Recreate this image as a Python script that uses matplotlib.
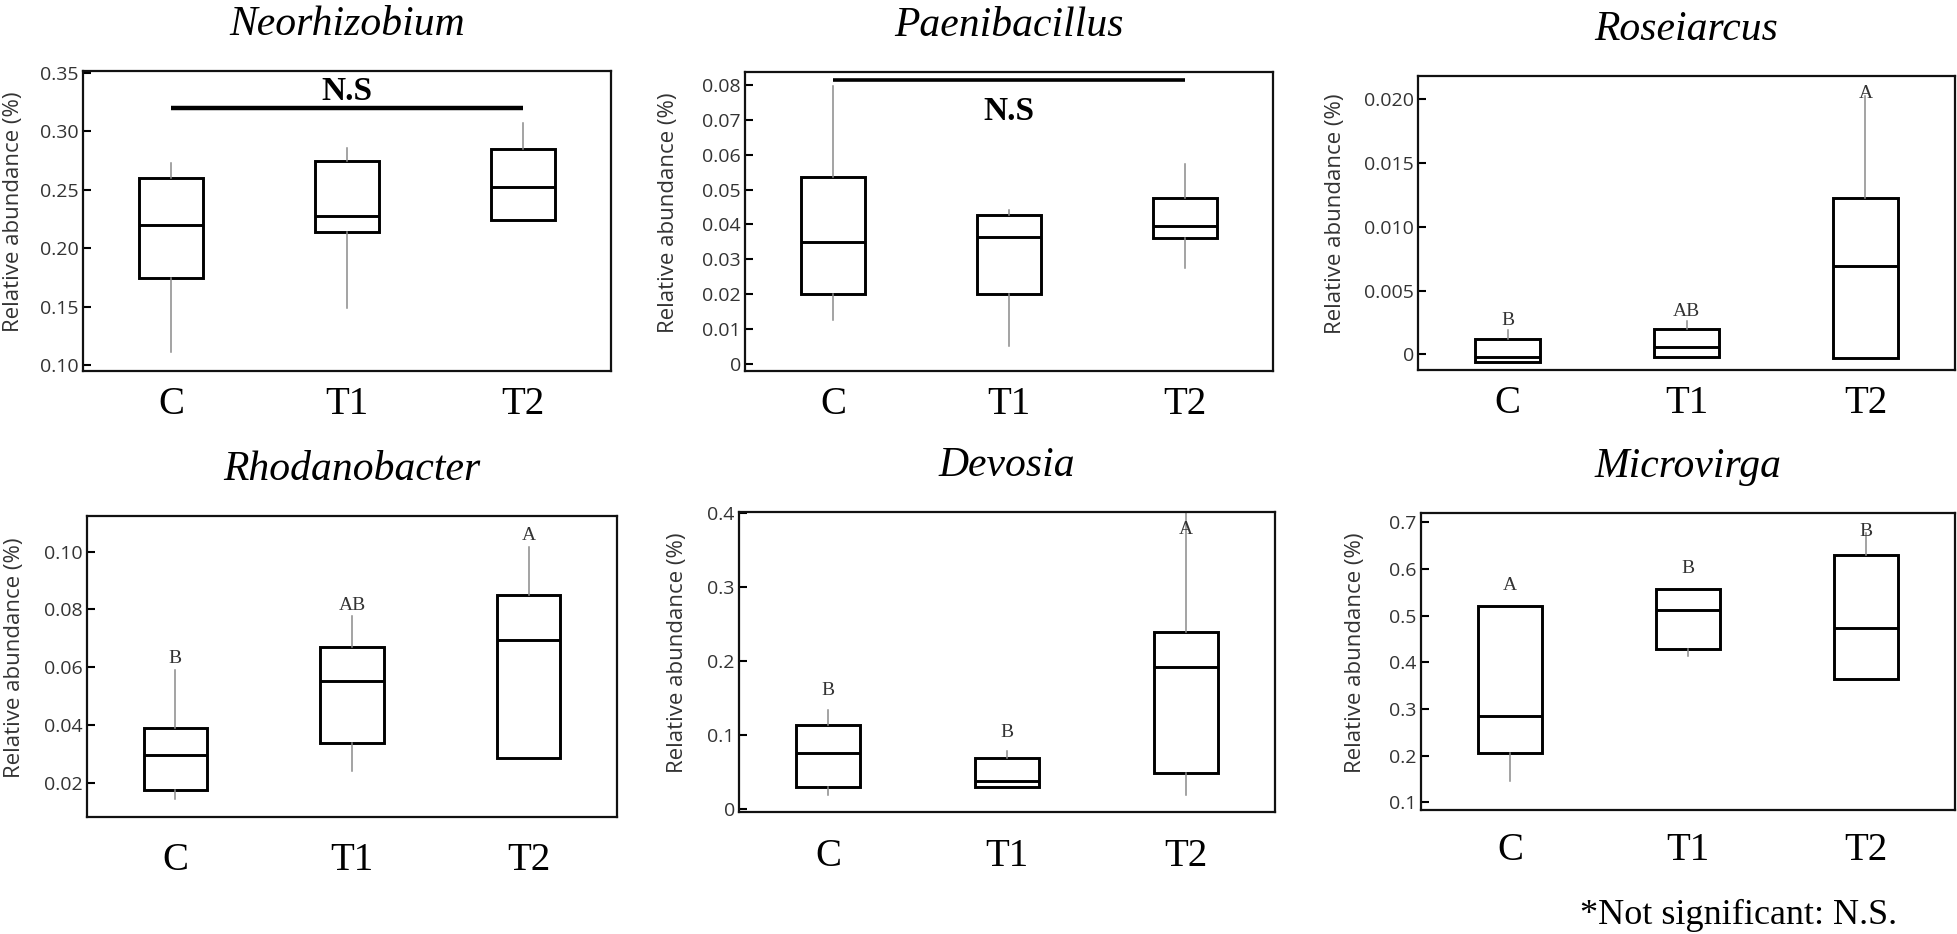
import matplotlib
matplotlib.use("Agg")
import matplotlib.pyplot as plt

# treatment groups
groups = ["C", "T1", "T2"]

# box statistics per group: [whisker low, Q1, median, Q3, whisker high]
neorhizobium = [[0.111, 0.175, 0.220, 0.260, 0.273],
                [0.149, 0.214, 0.228, 0.275, 0.286],
                [0.224, 0.224, 0.2525, 0.285, 0.307]]
paenibacillus = [[0.0128, 0.0200, 0.0350, 0.0535, 0.0795],
                 [0.0052, 0.0200, 0.0364, 0.0428, 0.0442],
                 [0.0275, 0.0360, 0.0395, 0.0476, 0.0572]]
roseiarcus = [[-0.0006, -0.0006, -0.0002, 0.0012, 0.0019],
              [-0.0002, -0.0002, 0.0006, 0.0020, 0.0026],
              [-0.0003, -0.0003, 0.0069, 0.0123, 0.0203]]
rhodanobacter = [[0.0146, 0.0175, 0.0296, 0.0391, 0.0591],
                 [0.0241, 0.0338, 0.0552, 0.0669, 0.0777],
                 [0.0287, 0.0287, 0.0694, 0.0849, 0.1016]]
devosia = [[0.018, 0.030, 0.075, 0.113, 0.134],
           [0.030, 0.030, 0.037, 0.069, 0.078],
           [0.018, 0.049, 0.192, 0.239, 0.401]]
microvirga = [[0.145, 0.205, 0.286, 0.521, 0.521],
              [0.414, 0.429, 0.513, 0.558, 0.558],
              [0.365, 0.365, 0.474, 0.630, 0.677]]

# significance letters (None -> not significant)
letters_rose = ["B", "AB", "A"]
letters_rhodo = ["B", "AB", "A"]
letters_devo = ["B", "B", "A"]
letters_micro = ["A", "B", "B"]

# y ticks and labels
ticks_neo = [0.10, 0.15, 0.20, 0.25, 0.30, 0.35]
labels_neo = ["0.10", "0.15", "0.20", "0.25", "0.30", "0.35"]
ticks_paeni = [0, 0.01, 0.02, 0.03, 0.04, 0.05, 0.06, 0.07, 0.08]
labels_paeni = ["0", "0.01", "0.02", "0.03", "0.04", "0.05", "0.06", "0.07", "0.08"]
ticks_rose = [0, 0.005, 0.010, 0.015, 0.020]
labels_rose = ["0", "0.005", "0.010", "0.015", "0.020"]
ticks_rhodo = [0.02, 0.04, 0.06, 0.08, 0.10]
labels_rhodo = ["0.02", "0.04", "0.06", "0.08", "0.10"]
ticks_devo = [0, 0.1, 0.2, 0.3, 0.4]
labels_devo = ["0", "0.1", "0.2", "0.3", "0.4"]
ticks_micro = [0.1, 0.2, 0.3, 0.4, 0.5, 0.6, 0.7]
labels_micro = ["0.1", "0.2", "0.3", "0.4", "0.5", "0.6", "0.7"]

W, H = 1958, 934
fig = plt.figure(figsize=(W / 100, H / 100), dpi=100)

SERIF = ["Liberation Serif", "DejaVu Serif"]
SANS = ["Open Sans", "DejaVu Sans"]

# (name, data, letters, ticks, labels, ylim, rect px (l, t, r, b), xpad, letter offset px, ylabel centre x px)
panels = [
    ("Neorhizobium", neorhizobium, None, ticks_neo, labels_neo, (0.095, 0.3517), (83, 71, 611, 371), 11, 0, 14),
    ("Paenibacillus", paenibacillus, None, ticks_paeni, labels_paeni, (-0.0019, 0.0836), (745, 72, 1273, 371), 11, 0, 669),
    ("Roseiarcus", roseiarcus, letters_rose, ticks_rose, labels_rose, (-0.00123, 0.02183), (1418, 76, 1955, 370), 11, 10, 1335),
    ("Rhodanobacter", rhodanobacter, letters_rhodo, ticks_rhodo, labels_rhodo, (0.0083, 0.1123), (87, 516, 617, 817), 18, 11, 15),
    ("Devosia", devosia, letters_devo, ticks_devo, labels_devo, (-0.0045, 0.402), (739, 512, 1275, 812), 19, 19, 678),
    ("Microvirga", microvirga, letters_micro, ticks_micro, labels_micro, (0.0837, 0.72), (1421, 513, 1955, 810), 16, 20, 1356),
]

for name, data, letters, ticks, labels, ylim, (l, t, r, b), xpad, loff, labx in panels:
    ax = fig.add_axes([l / W, 1 - b / H, (r - l) / W, (b - t) / H])
    stats = []
    for g, (lo, q1, med, q3, hi) in zip(groups, data):
        stats.append(dict(label=g, whislo=lo, q1=q1, med=med, q3=q3, whishi=hi, fliers=[]))
    ax.bxp(stats, positions=range(3), widths=0.36, showcaps=False, showfliers=False,
           patch_artist=True,
           boxprops=dict(facecolor="white", edgecolor="black", linewidth=2.1),
           medianprops=dict(color="black", linewidth=2.1),
           whiskerprops=dict(color="#8a8a8a", linewidth=1.1))
    ax.set_xlim(-0.5, 2.5)
    ax.set_ylim(*ylim)
    ax.set_yticks(ticks)
    ax.set_yticklabels(labels, family=SANS, fontsize=14, color="#333333")
    ax.set_xticks(range(3))
    ax.set_xticklabels(groups, family=SERIF, fontsize=28)
    ax.tick_params(axis="x", length=0, pad=xpad)
    ax.tick_params(axis="y", direction="in", length=6, width=1.5, pad=3)
    for s in ax.spines.values():
        s.set_linewidth(1.6)
        s.set_color("#111111")
    ax.set_ylabel("Relative abundance (%)", family=SANS, fontsize=16, color="#333333", va="center")
    ax.yaxis.set_label_coords((labx - l) / (r - l), 0.53)
    ax.set_title(name, family=SERIF, style="italic", fontsize=30, pad=26)

    if letters is None:
        # not significant bar
        if name == "Neorhizobium":
            ax.plot([0, 2], [0.320, 0.320], color="black", lw=3.2, solid_capstyle="butt")
            ax.text(1, 0.334, "N.S", ha="center", va="center", family=SERIF,
                    fontweight="bold", fontsize=24)
        else:
            ax.plot([0, 2], [0.0812, 0.0812], color="black", lw=2.6, solid_capstyle="butt")
            ax.text(1, 0.0724, "N.S", ha="center", va="center", family=SERIF,
                    fontweight="bold", fontsize=24)
    else:
        ph = b - t
        for i, (row, letter) in enumerate(zip(data, letters)):
            frac = (row[4] - ylim[0]) / (ylim[1] - ylim[0]) + loff / ph
            frac = min(frac, 1 - 18 / ph)
            ax.text(i, frac, letter, transform=ax.get_xaxis_transform(), ha="center",
                    va="center", family=SERIF, fontsize=14, color="#333333")

fig.text(1580 / W, 1 - 915 / H, "*Not significant: N.S.", ha="left", va="center",
         family=SERIF, fontsize=26)

fig.savefig("out.png", dpi=100)
